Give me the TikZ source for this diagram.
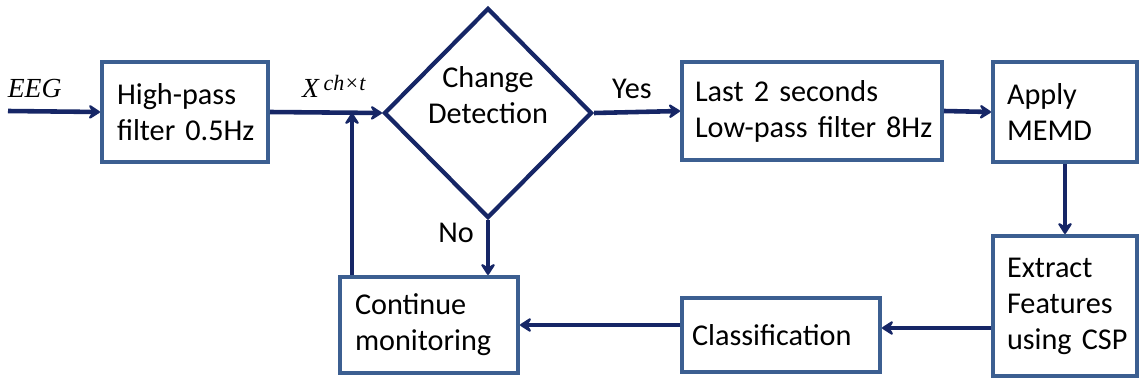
\documentclass[tikz,border=0pt]{standalone}
\usepackage{fontspec}
\setmainfont{Carlito}
\newfontfamily\tnr{Liberation Serif}
\usepackage{tikz}
\usetikzlibrary{calc}
\usetikzlibrary{arrows.meta}
\usetikzlibrary{shapes.geometric}

\definecolor{flecha}{RGB}{22,38,102}
\definecolor{borde}{RGB}{60,95,145}

\tikzset{
	rotulo/.style={font=\fontsize{17.2}{20.5}\selectfont},
	caja/.style={rotulo, draw=borde, line width=2.3pt, align=left, inner ysep=0pt},
	flujo/.style={draw=flecha, line width=2.6pt, -{Stealth[length=2.8mm,width=3.6mm,inset=1.1mm,round]}},
	cursiva/.style={font=\tnr\itshape\fontsize{15.7}{18}\selectfont},
}

\begin{document}
\begin{tikzpicture}[x=0.02cm, y=-0.02cm]
			\useasboundingbox (0,0) rectangle (1139,382); % margen
			% cajas
			\node [caja, inner xsep=0.3cm, text width=2.72cm, minimum height=2.0cm] (hpf) at (185,112) {High-pass\\\mbox{filter 0.5Hz}};
			\node [diamond, draw=flecha, line width=2.4pt, inner sep=0pt, minimum width=4.16cm, minimum height=4.2cm,
				label={[rotulo, align=center, yshift=0.36cm]center:Change\\Detection}] (cd) at (488,113) {}; % rombo
			\node [caja, inner xsep=0.26cm, text width=4.68cm, minimum height=1.96cm] (last) at (812,111) {\mbox{Last 2 seconds}\\\mbox{Low-pass filter 8Hz}};
			\node [caja, inner xsep=0.28cm, text width=2.32cm, minimum height=2.0cm] (memd) at (1065,112) {Apply\\MEMD};
			\node [caja, inner xsep=0.28cm, text width=2.32cm, minimum height=2.8cm] (csp) at (1065,306) {Extract\\Features\\\mbox{using CSP}};
			\node [caja, inner xsep=0.2cm, text width=3.56cm, minimum height=1.48cm] (clf) at (781,335) {Classification};
			\node [caja, inner xsep=0.3cm, text width=2.96cm, minimum height=1.92cm] (cont) at (429,325) {Continue\\monitoring};
			% flechas
			\coordinate (eeg) at (8,111);
			\coordinate (fb) at (352,113);
			\draw [flujo] (eeg) -- (hpf.west) node [pos=0.29, yshift=0.46cm, cursiva] {EEG};
			\draw [flujo] (hpf.east) -- (cd.west) node [pos=0.57, yshift=0.52cm, cursiva] {X\,\raisebox{0.6ex}{\fontsize{12.5}{12.5}\selectfont ch×t}};
			\draw [flujo] (cont.north -| fb) -- (fb); % realimentacion
			\draw [flujo] (cd.east) -- (last.west) node [pos=0.44, yshift=0.46cm, rotulo] {Yes};
			\draw [flujo] (last.east) -- (memd.west);
			\draw [flujo] (memd.south) -- (csp.north);
			\draw [flujo] ([yshift=0.14cm]csp.west |- clf.east) -- ([yshift=0.14cm]clf.east);
			\draw [flujo] (clf.west |- cont.east) -- (cont.east);
			\draw [flujo] (cd.south) -- (cd.south |- cont.north) node [pos=0.24, xshift=-0.64cm, rotulo] {No};
		\end{tikzpicture}
\end{document}
